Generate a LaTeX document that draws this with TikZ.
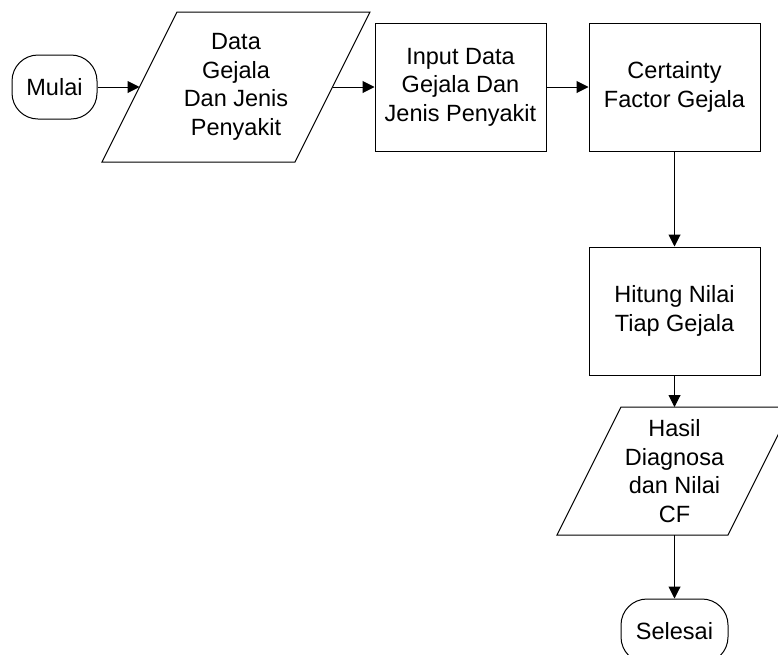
\documentclass[tikz,border=0pt]{standalone}
\usepackage{fontspec}
\setmainfont{Liberation Sans}
\usetikzlibrary{arrows.meta}
\begin{document}
\begin{tikzpicture}[x=1pt,y=-1pt,
  lbl/.style={align=center, inner sep=0pt, font=\fontsize{23.5}{28.5}\selectfont},
  box/.style={lbl, draw, line width=1pt, minimum width=171pt, minimum height=128pt},
  term/.style={lbl, draw, line width=1pt, rounded corners=26pt, minimum height=64pt},
  shp/.style={draw, line width=1pt, line join=miter},
  flow/.style={-{Triangle[length=12pt,width=12pt]}, line width=1pt}]
\useasboundingbox (0,0) rectangle (778,654);
\clip (0,0) rectangle (778,654);
% start
\node[term, minimum width=85pt] (mulai) at (54.5,87) {Mulai};
% input data parallelogram
\draw[shp] (102,162) -- (295,162) -- (370,12) -- (177,12) -- cycle;
\node[lbl] (data) at (236,87) {Data\\Gejala\\Dan Jenis\\Penyakit};
\coordinate (dataL) at (139.5,87);
\coordinate (dataR) at (332.5,87);
% processes
\node[box] (input) at (460.5,87) {Input Data\\Gejala Dan\\Jenis Penyakit};
\node[box] (cf) at (674.5,87) {Certainty\\Factor Gejala};
\node[box] (hitung) at (674.5,311) {Hitung Nilai\\Tiap Gejala};
% output parallelogram
\draw[shp] (557,535) -- (728,535) -- (792,407) -- (621,407) -- cycle;
\node[lbl] (hasil) at (674.5,471) {Hasil\\Diagnosa\\dan Nilai\\CF};
\coordinate (hasilT) at (674.5,407);
\coordinate (hasilB) at (674.5,535);
% end
\node[term, minimum width=107pt] (selesai) at (674.5,631) {Selesai};
% connectors
\draw[flow] (mulai.east) -- (dataL);
\draw[flow] (dataR) -- (input.west);
\draw[flow] (input.east) -- (cf.west);
\draw[flow] (cf.south) -- (hitung.north);
\draw[flow] (hitung.south) -- (hasilT);
\draw[flow] (hasilB) -- (selesai.north);
\end{tikzpicture}
\end{document}
